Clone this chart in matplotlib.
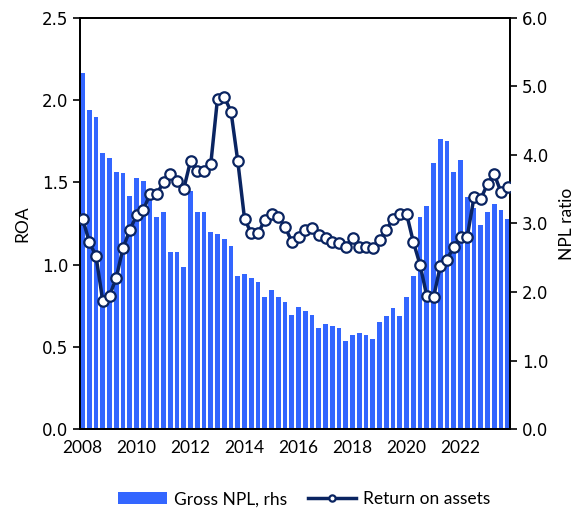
"""
ROA and gross NPL ratio, quarterly 2008-2023
"""

import numpy as np
import matplotlib
matplotlib.use('Agg')
import matplotlib.pyplot as plt

# Gross NPL ratio, % (right axis), 2008Q1 - 2023Q4
npl = [5.20, 4.65, 4.56, 4.03, 3.95, 3.75, 3.73, 3.40,
       3.67, 3.62, 3.50, 3.09, 3.17, 2.59, 2.59, 2.37,
       3.47, 3.17, 3.17, 2.87, 2.84, 2.78, 2.67, 2.23,
       2.26, 2.20, 2.15, 1.92, 2.03, 1.92, 1.86, 1.67,
       1.78, 1.73, 1.67, 1.48, 1.54, 1.51, 1.48, 1.28,
       1.37, 1.40, 1.37, 1.31, 1.56, 1.65, 1.76, 1.65,
       1.92, 2.23, 3.09, 3.26, 3.89, 4.23, 4.20, 3.75,
       3.92, 3.39, 3.23, 2.98, 3.17, 3.28, 3.20, 3.06]

# Return on assets, % (left axis)
roa = [1.28, 1.14, 1.05, 0.78, 0.81, 0.92, 1.10, 1.21,
       1.30, 1.33, 1.43, 1.43, 1.50, 1.55, 1.51, 1.46,
       1.63, 1.57, 1.57, 1.61, 2.01, 2.02, 1.93, 1.63,
       1.28, 1.19, 1.19, 1.27, 1.31, 1.29, 1.23, 1.14,
       1.17, 1.21, 1.22, 1.18, 1.16, 1.14, 1.13, 1.11,
       1.16, 1.11, 1.11, 1.10, 1.15, 1.21, 1.28, 1.31,
       1.31, 1.14, 1.00, 0.81, 0.80, 0.99, 1.03, 1.11,
       1.17, 1.17, 1.41, 1.40, 1.49, 1.55, 1.44, 1.47]

years = ['2008', '2010', '2012', '2014', '2016', '2018', '2020', '2022']

bar_color = '#3366FF'
line_color = '#0A2461'
label_font = 'Lato'

x = np.arange(len(npl))

fig = plt.figure(figsize=(5.85, 5.12), dpi=100)
ax = fig.add_axes([0.137, 0.162, 0.735, 0.803])
ax2 = ax.twinx()

# bars on the right axis, drawn below the line
ax2.bar(x, npl, width=0.7, color=bar_color, label='Gross NPL, rhs', zorder=1)
ax2.set_ylim(0, 6)
ax2.set_yticks(np.arange(0, 6.1, 1.0))
ax2.set_yticklabels([f'{v:.1f}' for v in np.arange(0, 6.1, 1.0)], fontsize=12)
ax2.set_ylabel('NPL ratio', fontsize=12.5, family=label_font, labelpad=8)

ax.set_zorder(ax2.get_zorder() + 1)
ax.patch.set_visible(False)
ax.plot(x, roa, color=line_color, lw=2.5, marker='o', ms=7.5,
        mfc='white', mec=line_color, mew=1.6, label='Return on assets', zorder=3)
ax.set_ylim(0, 2.5)
ax.set_yticks(np.arange(0, 2.51, 0.5))
ax.set_yticklabels([f'{v:.1f}' for v in np.arange(0, 2.51, 0.5)], fontsize=12)
ax.set_ylabel('ROA', fontsize=12.5, family=label_font, labelpad=8)

ax.set_xlim(-0.35, len(npl) - 0.65)
ax.set_xticks(np.arange(0, len(npl), 8))
ax.set_xticklabels(years, fontsize=12.5, family=label_font)
ax.tick_params(axis='x', length=0, pad=8)
ax.tick_params(axis='y', length=5, width=1.2)
ax2.tick_params(axis='y', length=5, width=1.2)

for a in (ax, ax2):
    for s in a.spines.values():
        s.set_linewidth(1.3)

h1, l1 = ax2.get_legend_handles_labels()
h2, l2 = ax.get_legend_handles_labels()
fig.legend(h1 + h2, l1 + l2, loc='center', bbox_to_anchor=(0.52, 0.025),
           ncol=2, frameon=False, handlelength=2.8, columnspacing=1.2,
           handletextpad=0.4, markerscale=0.6,
           prop={'family': label_font, 'size': 12.5})

fig.savefig('out.png', dpi=100)
